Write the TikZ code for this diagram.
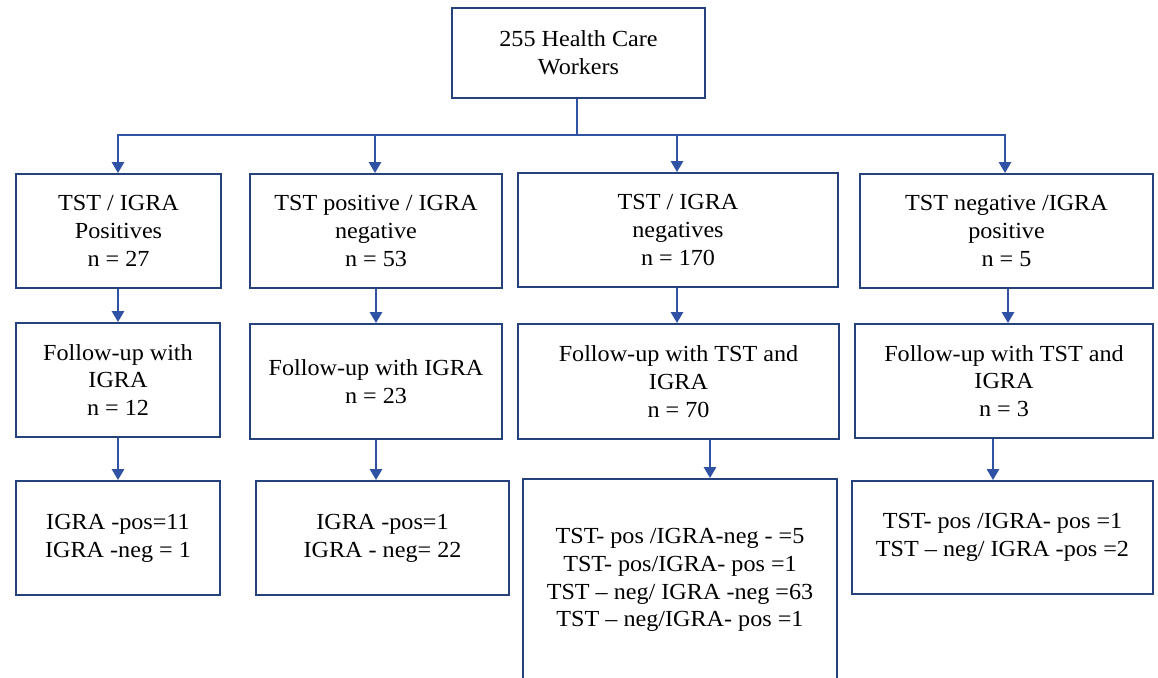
\documentclass[tikz,border=0pt]{standalone}
\usepackage{fontspec}
\setmainfont{Liberation Serif}[FakeStretch=1.05]
\usetikzlibrary{arrows.meta}
\definecolor{boxblue}{RGB}{38,66,125}
\definecolor{arrblue}{RGB}{48,82,165}
\tikzset{
  box/.style={draw=boxblue, line width=1.8pt, align=center, inner sep=0pt, font=\fontsize{23}{27.8}\selectfont},
  arr/.style={draw=arrblue, line width=2.6pt, -{Triangle[width=12pt,length=11pt]}},
  conn/.style={draw=arrblue, line width=2.6pt}
}
\newcommand{\boxat}[6]{\node[box, minimum width=#4pt, minimum height=#5pt] (#1) at (#2,#3) {#6};}
\begin{document}
\begin{tikzpicture}[x=1pt,y=-1pt]
\fill[white] (0,0) rectangle (1158,677);
\useasboundingbox (0,0) rectangle (1158,677);
\begin{scope}
\clip (0,0) rectangle (1158,677);
\boxat{top}{578.5}{53}{253}{90}{255 Health Care\\Workers}
\boxat{b11}{118.5}{231}{205}{114}{TST / IGRA\\Positives\\n = 27}
\boxat{b12}{376}{231}{252}{114}{TST positive / IGRA\\negative\\n = 53}
\boxat{b13}{678}{230}{320}{114}{TST / IGRA\\negatives\\n = 170}
\boxat{b14}{1006.5}{231}{293}{114}{TST negative /IGRA\\positive\\n = 5}
\boxat{b21}{118}{380}{204}{114}{Follow-up with\\IGRA\\n = 12}
\boxat{b22}{376}{381.5}{252}{115}{Follow-up with IGRA\\n = 23}
\boxat{b23}{678.5}{381.5}{321}{115}{Follow-up with TST and\\IGRA\\n = 70}
\boxat{b24}{1004}{381}{298}{114}{Follow-up with TST and\\IGRA\\n = 3}
\boxat{b31}{118}{538}{204}{114}{IGRA -pos=11\\IGRA -neg = 1}
\boxat{b32}{382.5}{538}{253}{114}{IGRA -pos=1\\IGRA - neg= 22}
\boxat{b33}{680}{580}{314}{202}{TST- pos /IGRA-neg - =5\\TST- pos/IGRA- pos =1\\TST – neg/ IGRA -neg =63\\TST – neg/IGRA- pos =1}
\boxat{b34}{1002.5}{537.5}{301}{113}{TST- pos /IGRA- pos =1\\TST – neg/ IGRA -pos =2}
\end{scope}
% junction line
\coordinate (jL) at (118,135);
\coordinate (jR) at (1005,135);
\coordinate (j2) at (375,135);
\coordinate (j3) at (677,135);
\coordinate (jT) at (577,135);
\draw[conn] (top.south -| jT) -- (jT);
\draw[conn, line cap=rect] (jL) -- (jR);
\draw[arr] (jL) -- (b11.north -| jL);
\draw[arr] (j2) -- (b12.north -| j2);
\draw[arr] (j3) -- (b13.north -| j3);
\draw[arr] (jR) -- (b14.north -| jR);
% row 1 to row 2
\coordinate (x1) at (118,0);
\coordinate (x2) at (376,0);
\coordinate (x3) at (677,0);
\coordinate (x4) at (1008,0);
\draw[arr] (b11.south -| x1) -- (b21.north -| x1);
\draw[arr] (b12.south -| x2) -- (b22.north -| x2);
\draw[arr] (b13.south -| x3) -- (b23.north -| x3);
\draw[arr] (b14.south -| x4) -- (b24.north -| x4);
% row 2 to row 3
\coordinate (y3) at (710,0);
\coordinate (y4) at (993,0);
\draw[arr] (b21.south -| x1) -- (b31.north -| x1);
\draw[arr] (b22.south -| x2) -- (b32.north -| x2);
\draw[arr] (b23.south -| y3) -- (b33.north -| y3);
\draw[arr] (b24.south -| y4) -- (b34.north -| y4);
\end{tikzpicture}
\end{document}
